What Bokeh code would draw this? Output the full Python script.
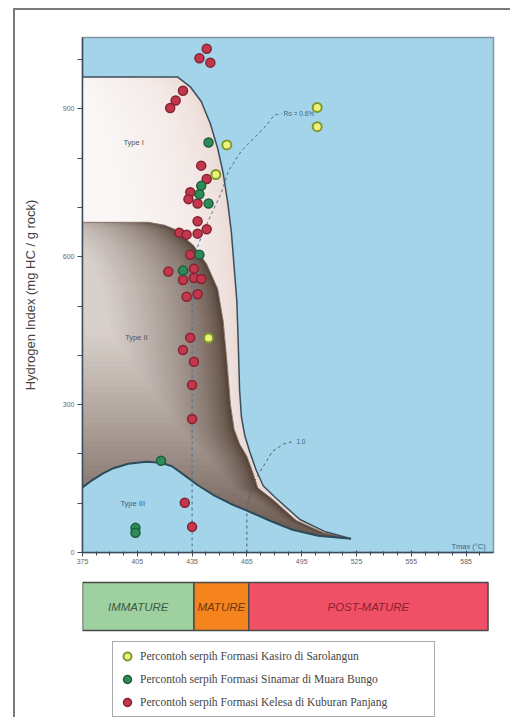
import numpy as np
from bokeh.plotting import figure
from bokeh.layouts import column
from bokeh.models import Range1d, FixedTicker, Label, Legend, LegendItem
from bokeh.core.properties import value
from bokeh.embed import file_html
from bokeh.resources import INLINE

# ---------------- data ----------------
# kerogen type envelopes (Tmax degC, HI mg HC/g rock)
type1_tmax = [375, 427, 434, 440, 445, 449, 452, 454.5, 456.5, 458, 459.5, 460.3, 461, 462, 463.8, 466.5, 470, 474, 481, 494, 508, 522]
type1_hi   = [965, 965, 945, 915, 870, 820, 770, 710, 650, 580, 510, 420, 330, 275, 238, 205, 168, 135, 110, 67, 42, 28]

type2_tmax = [375, 411, 420, 426, 436, 443, 449, 452, 454, 456, 458, 461, 465, 468, 471, 479, 492, 507, 522]
type2_hi   = [670, 670, 664, 655, 622, 585, 535, 470, 390, 300, 250, 220, 195, 165, 131, 108, 65, 40, 28]

type3_tmax = [375, 380, 386, 392, 400, 410, 418, 424, 430, 438, 447, 456, 465, 478, 490, 504, 522]
type3_hi   = [132, 146, 160, 171, 180, 184, 182, 175, 159, 137, 116, 99, 85, 64, 46, 34, 28]

# vitrinite reflectance iso-lines
ro06_tmax = [435, 435, 437, 441, 446, 451, 455, 462, 470, 476, 480, 484]
ro06_hi   = [0, 560, 610, 650, 690, 730, 775, 815, 845, 868, 888, 890]
ro10_tmax = [465, 465, 467, 470, 474, 479, 485, 491]
ro10_hi   = [0, 90, 125, 150, 175, 205, 220, 226]

# samples
kasiro_tmax = [503.5, 503.5, 454, 448, 444]
kasiro_hi   = [903, 864, 827, 767, 435]
sinamar_tmax = [444, 440, 439, 444, 439, 430, 418, 404, 404]
sinamar_hi   = [832, 744, 727, 708, 604, 572, 186, 50, 40]
kelesa_tmax = [443, 439, 445, 430, 426, 423, 440, 443, 434, 433, 438, 438, 428, 432, 438, 443,
               434, 422, 436, 430, 436, 440, 432, 438, 434, 430, 436, 435, 435, 431, 435]
kelesa_hi   = [1022, 1003, 994, 937, 917, 902, 785, 758, 731, 717, 708, 672, 649, 645, 647, 656,
               604, 570, 576, 553, 557, 555, 519, 524, 436, 411, 387, 340, 271, 101, 52]

legend_labels = ["Percontoh serpih Formasi Kasiro di Sarolangun",
                 "Percontoh serpih Formasi Sinamar di Muara Bungo",
                 "Percontoh serpih Formasi Kelesa di Kuburan Panjang"]

maturity_labels = ["IMMATURE", "MATURE", "POST-MATURE"]
maturity_edges = [375, 436, 466, 597]

x_ticks = [375, 405, 435, 465, 495, 525, 555, 585]
y_ticks = [0, 300, 600, 900]

# ---------------- helpers ----------------
def mix(c0, c1, t):
    a = np.array([int(c0[i:i + 2], 16) for i in (1, 3, 5)], float)
    b = np.array([int(c1[i:i + 2], 16) for i in (1, 3, 5)], float)
    c = a + (b - a) * t
    return "#%02x%02x%02x" % tuple(int(round(v)) for v in c)

BLUE = "#a3d4ea"
FONT = "Liberation Sans"

# ---------------- main plot ----------------
p = figure(width=495, height=565, x_range=Range1d(375, 600), y_range=Range1d(0, 1045),
           output_backend="svg", toolbar_location=None,
           min_border_left=67, min_border_right=17, min_border_top=27, min_border_bottom=23)
p.background_fill_color = BLUE
p.border_fill_color = "white"
p.outline_line_color = "#8596a3"
p.outline_line_width = 1.5
p.grid.visible = False

# Type I envelope (light, gradient toward curve)
N1 = 22
for k in range(N1):
    t = k / (N1 - 1)
    s = 60 * t ** 1.4
    xs = [x - s for x in type1_tmax] + [type1_tmax[-1] - s, type1_tmax[0] - s]
    ys = list(type1_hi) + [0, 0]
    p.patch(xs, ys, fill_color=mix("#ead8d3", "#faf7f6", t ** 0.7), line_color=None)

# Type II envelope (grey-brown gradient)
N2 = 40
cx0 = np.array(type2_tmax, float)
cy0 = np.array(type2_hi, float)
for k in range(N2):
    t = k / (N2 - 1)
    s = 62 * t ** 1.5
    h = 460 * (t - 0.04) ** 1.1 if t > 0.04 else 0.0
    cx = cx0 - s
    keep = cy0 > h
    xh = float(np.interp(h, cy0[::-1], cx[::-1]))
    xs = list(cx[keep]) + [xh, cx[0]]
    ys = list(cy0[keep]) + [h, h]
    p.patch(xs, ys, fill_color=mix("#4c392e", "#d8cfca", t ** 0.8), line_color=None)

# Type III envelope (blue)
p.patch(list(type3_tmax) + [type3_tmax[-1], type3_tmax[0]], list(type3_hi) + [0, 0],
        fill_color=BLUE, line_color=None)

# envelope outlines
p.line(type2_tmax, type2_hi, line_color="#8a7a72", line_width=1)
p.line(type1_tmax, type1_hi, line_color="#3d4d5a", line_width=1.5)
p.line(type3_tmax, type3_hi, line_color="#2e4a5a", line_width=2)

# Ro iso-lines
p.line(ro06_tmax, ro06_hi, line_color="#4a6f8f", line_width=1, line_dash="3 3")
p.line(ro10_tmax, ro10_hi, line_color="#4a6070", line_width=1, line_dash="3 3")
p.add_layout(Label(x=ro06_tmax[-1], y=ro06_hi[-1], text="Ro = 0.6%", text_font=FONT,
                   text_font_size="6.5px", text_color="#3b5e86", text_baseline="middle", x_offset=2))
p.add_layout(Label(x=ro10_tmax[-1], y=ro10_hi[-1], text="1.0", text_font=FONT,
                   text_font_size="6.5px", text_color="#3b5e86", text_baseline="middle", x_offset=2))

# type labels
for txt, x, y, col in [("Type I", 403, 832, "#555555"), ("Type II", 404.5, 436, "#555555"),
                       ("Type III", 402.5, 99, "#3b5e86")]:
    p.add_layout(Label(x=x, y=y, text=txt, text_font=FONT, text_font_size="7.5px",
                       text_color=col, text_align="center", text_baseline="middle"))

# samples
p.scatter(kelesa_tmax, kelesa_hi, size=9, fill_color="#c4364a", line_color="#842334", line_width=1.5)
p.scatter(sinamar_tmax, sinamar_hi, size=9, fill_color="#2e8b57", line_color="#1d5e3c", line_width=1.5)
p.scatter(kasiro_tmax, kasiro_hi, size=9, fill_color="#eef27a", line_color="#7d9a2a", line_width=2)

# axes
p.xaxis.ticker = FixedTicker(ticks=x_ticks, minor_ticks=[375 + 7.5 * i for i in range(30)])
p.yaxis.ticker = FixedTicker(ticks=y_ticks, minor_ticks=[100, 200, 400, 500, 700, 800, 1000])
for ax in (p.xaxis[0], p.yaxis[0]):
    ax.axis_line_color = "#3c4b5c"
    ax.axis_line_width = 1.5
    ax.major_tick_line_color = "#3c4b5c"
    ax.minor_tick_line_color = "#3c4b5c"
    ax.major_tick_out = 4
    ax.major_tick_in = 2
    ax.minor_tick_out = 3
    ax.minor_tick_in = 1
    ax.major_label_text_font = FONT
    ax.major_label_text_font_size = "7px"
    ax.major_label_text_color = "#666666"
p.yaxis.major_tick_out = 5
p.yaxis.minor_tick_out = 5
p.yaxis.major_tick_in = 0
p.yaxis.minor_tick_in = 0
p.xaxis.major_label_standoff = 2
p.yaxis.major_label_standoff = 3
p.yaxis.axis_label = "Hydrogen Index (mg HC / g rock)"
p.yaxis.axis_label_text_font = FONT
p.yaxis.axis_label_text_font_size = "13px"
p.yaxis.axis_label_text_font_style = "normal"
p.yaxis.axis_label_text_color = "#444444"
p.yaxis.axis_label_standoff = 22

p.add_layout(Label(x=577, y=13, text="Tmax (°C)", text_font=FONT, text_font_size="7.5px",
                   text_color="#3b5e86", text_baseline="middle"))

# ---------------- maturity bar + legend ----------------
p2 = figure(width=495, height=142, x_range=p.x_range, y_range=Range1d(0, 142),
            output_backend="svg", toolbar_location=None,
            min_border_left=67, min_border_right=17, min_border_top=0, min_border_bottom=0)
p2.axis.visible = False
p2.grid.visible = False
p2.outline_line_color = None
p2.background_fill_color = "white"

p2.quad(left=maturity_edges[:-1], right=maturity_edges[1:], bottom=87, top=135,
        fill_color=["#9fd1a0", "#f5841f", "#ef5066"], line_color="#4a4a4a", line_width=1.5)
mids = [(a + b) / 2 for a, b in zip(maturity_edges[:-1], maturity_edges[1:])]
p2.text(x=mids, y=[111] * 3, text=maturity_labels, text_font=value(FONT), text_font_style="italic",
        text_font_size="11.5px", text_color=["#3d5a40", "#6a3a10", "#8a2030"],
        text_align="center", text_baseline="middle")

# legend glyph renderers (samples placed below the visible band of this strip)
r_k = p2.scatter(kasiro_tmax[:1], [-100], size=9, fill_color="#eef27a", line_color="#7d9a2a", line_width=2)
r_s = p2.scatter(sinamar_tmax[:1], [-100], size=9, fill_color="#2e8b57", line_color="#1d5e3c", line_width=1.5)
r_e = p2.scatter(kelesa_tmax[:1], [-100], size=9, fill_color="#c4364a", line_color="#842334", line_width=1.5)
legend = Legend(items=[LegendItem(label=legend_labels[0], renderers=[r_k]),
                       LegendItem(label=legend_labels[1], renderers=[r_s]),
                       LegendItem(label=legend_labels[2], renderers=[r_e])],
                location=(30, 0), orientation="vertical",
                label_text_font="Liberation Serif", label_text_font_size="11.5px",
                label_text_color="#444444", border_line_color="#555555", border_line_width=1,
                padding=4, spacing=3, glyph_width=20, glyph_height=20, label_height=20,
                label_width=290, label_standoff=3, margin=0, background_fill_color="white")
p2.add_layout(legend)

layout = column(p, p2, margin=(8, 0, 0, 13),
                styles={"border-top": "2px solid #7a7a7a", "border-left": "2px solid #7a7a7a"})

open("out.html", "w").write(file_html(layout, INLINE))
